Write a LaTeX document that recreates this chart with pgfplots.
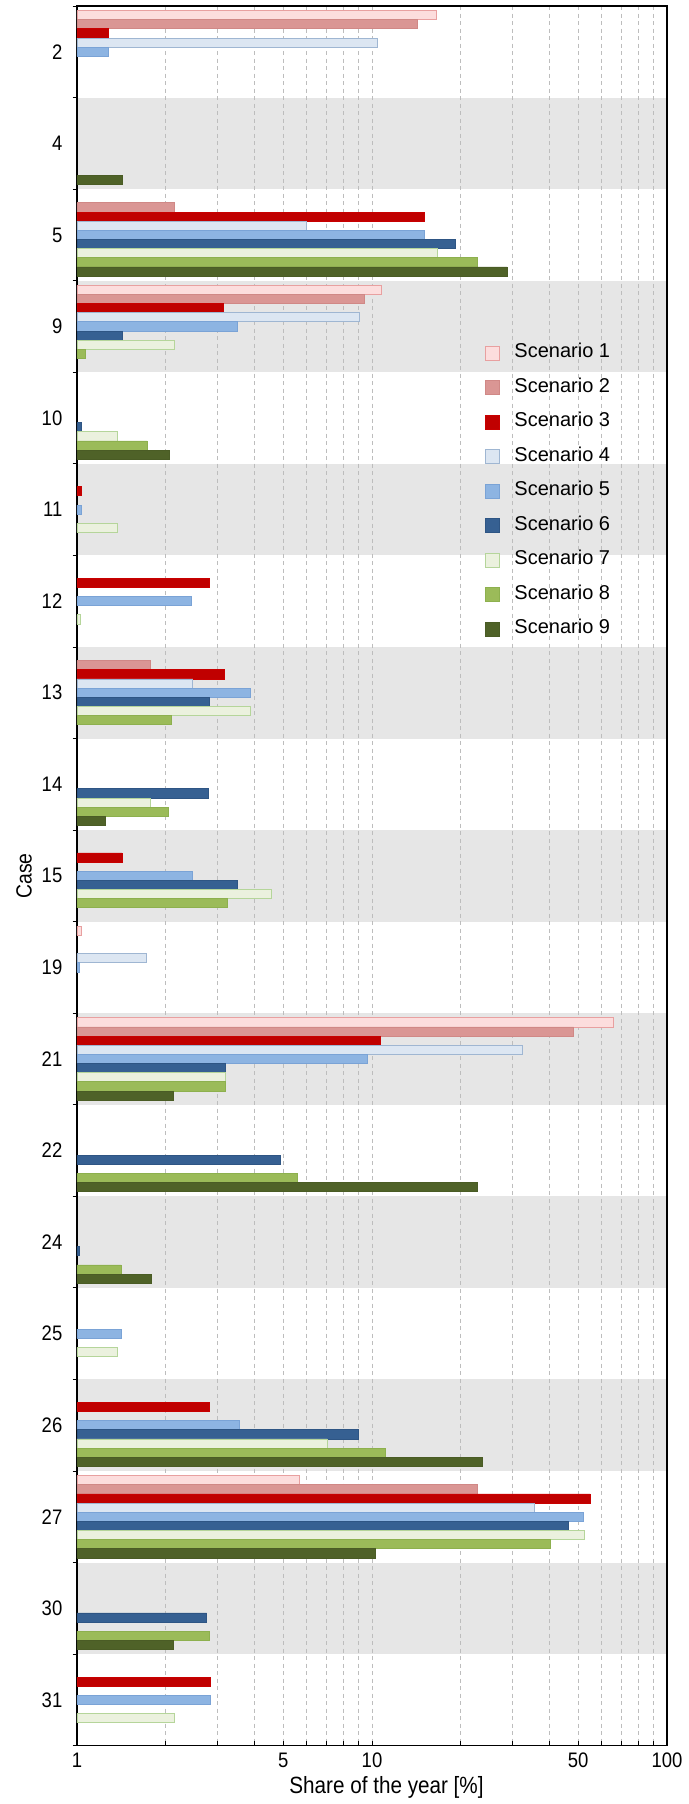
\documentclass[border=0pt]{standalone}
\usepackage{pgfplots}
\pgfplotsset{compat=1.18}
\usepackage{pgfplotstable}
\usepackage{fontspec}
\setmainfont{Liberation Sans}
\newfontfamily\narrowfont[FakeStretch=0.88]{Liberation Sans}

\definecolor{sAf}{HTML}{FCDDDD}\definecolor{sAd}{HTML}{E8A0A0}
\definecolor{sBf}{HTML}{DA9694}\definecolor{sBd}{HTML}{D08886}
\definecolor{sCf}{HTML}{C00000}\definecolor{sCd}{HTML}{C80000}
\definecolor{sDf}{HTML}{DCE6F2}\definecolor{sDd}{HTML}{9FB6D2}
\definecolor{sEf}{HTML}{8DB4E2}\definecolor{sEd}{HTML}{7AA3D6}
\definecolor{sFf}{HTML}{366092}\definecolor{sFd}{HTML}{2E5584}
\definecolor{sGf}{HTML}{EBF1DE}\definecolor{sGd}{HTML}{B5D59A}
\definecolor{sHf}{HTML}{9BBB59}\definecolor{sHd}{HTML}{8DB04E}
\definecolor{sIf}{HTML}{4F6228}\definecolor{sId}{HTML}{4A5C25}
\definecolor{bandgray}{HTML}{E6E6E6}
\definecolor{gridgray}{HTML}{BDBDBD}

% idx = position of the case on the vertical axis (0 = case 2, ..., 18 = case 31)
\pgfplotstableread{
idx val
0 16.5
3 10.8
10 1.035
11 65.6
16 5.69
}\scA
\pgfplotstableread{
idx val
0 14.3
2 2.14
3 9.45
7 1.78
11 48.2
16 22.8
}\scB
\pgfplotstableread{
idx val
0 1.28
2 15.1
3 3.14
5 1.035
6 2.81
7 3.16
9 1.42
11 10.7
15 2.82
16 54.9
18 2.84
}\scC
\pgfplotstableread{
idx val
0 10.4
2 6.0
3 9.07
7 2.47
10 1.72
11 32.3
16 35.4
}\scD
\pgfplotstableread{
idx val
0 1.28
2 15.1
3 3.49
5 1.035
6 2.45
7 3.87
9 2.47
10 1.02
11 9.68
14 1.41
15 3.54
16 52.2
18 2.84
}\scE
\pgfplotstableread{
idx val
2 19.2
3 1.42
4 1.035
7 2.82
8 2.78
9 3.50
11 3.19
12 4.88
13 1.02
15 9.01
16 46.3
17 2.75
}\scF
\pgfplotstableread{
idx val
2 16.7
3 2.14
4 1.366
5 1.366
6 1.03
7 3.88
8 1.77
9 4.57
11 3.19
14 1.366
15 7.04
16 52.5
18 2.14
}\scG
\pgfplotstableread{
idx val
2 22.7
3 1.067
4 1.73
7 2.09
8 2.04
9 3.24
11 3.19
12 5.60
13 1.41
15 11.1
16 40.4
17 2.82
}\scH
\pgfplotstableread{
idx val
1 1.42
2 28.7
4 2.05
8 1.25
11 2.13
12 22.8
13 1.79
15 23.6
16 10.3
17 2.13
}\scI

\pgfplotsset{
  scen/.style n args={3}{
    xbar, bar width=0.1, bar shift=#1,
    fill=#2, draw=#3, line width=0.8pt,
    legend image code/.code={
      \draw[##1] (0pt,-7pt) rectangle (14pt,7pt);
      \path (28.5pt,0pt);
    }
  }
}

\begin{document}
\begin{tikzpicture}
\begin{axis}[
  set layers=standard,
  scale only axis, width=590pt, height=1739.7pt,
  at={(0pt,0pt)}, anchor=south west,
  xmode=log, xmin=1, xmax=100,
  ymin=-0.5, ymax=18.5, y dir=reverse,
  xtick={1,5,10,50,100}, xticklabels={1,5,10,50,100},
  minor xtick={2,3,4,6,7,8,9,20,30,40,60,70,80,90},
  xmajorgrids, xminorgrids,
  grid style={dash pattern=on 4pt off 3.5pt, gridgray, line width=0.7pt},
  minor grid style={dash pattern=on 4pt off 3.5pt, gridgray, line width=0.7pt},
  ytick={0,...,18},
  yticklabels={2,4,5,9,10,11,12,13,14,15,19,21,22,24,25,26,27,30,31},
  minor ytick={-0.5,0.5,...,18.5},
  xtick pos=bottom, ytick pos=left,
  xtick align=inside, ytick align=outside,
  x tick style={black, line width=0.8pt},
  major y tick style={draw=none},
  minor y tick style={black, line width=0.8pt},
  major tick length=4.5pt, minor tick length=4.5pt,
  axis line style={line width=1.3pt},
  xticklabel style={font=\narrowfont\fontsize{21}{21}\selectfont, inner sep=0pt, yshift=-7pt},
  yticklabel style={font=\narrowfont\fontsize{21}{21}\selectfont, inner sep=0pt, xshift=-10pt},
  xlabel={Share of the year [\%]},
  xlabel style={font=\narrowfont\fontsize{23.5}{23.5}\selectfont, at={(axis description cs:0.5246,0)}, anchor=center, inner sep=0pt, yshift=-42pt},
  ylabel={Case},
  ylabel style={font=\narrowfont\fontsize{22}{22}\selectfont, at={(axis description cs:-0.0898,0.5)}, anchor=center, inner sep=0pt},
  legend cell align=left,
  legend style={draw=none, fill=none, at={(axis description cs:0.6864,0.807)}, anchor=north west,
    font=\fontsize{20}{20}\selectfont, row sep=16.5pt,
    nodes={inner sep=0pt, text height=14pt, text depth=4pt}},
]
\begin{pgfonlayer}{axis background}
\fill[bandgray] (axis cs:1,0.5) rectangle (axis cs:100,1.5);
\fill[bandgray] (axis cs:1,2.5) rectangle (axis cs:100,3.5);
\fill[bandgray] (axis cs:1,4.5) rectangle (axis cs:100,5.5);
\fill[bandgray] (axis cs:1,6.5) rectangle (axis cs:100,7.5);
\fill[bandgray] (axis cs:1,8.5) rectangle (axis cs:100,9.5);
\fill[bandgray] (axis cs:1,10.5) rectangle (axis cs:100,11.5);
\fill[bandgray] (axis cs:1,12.5) rectangle (axis cs:100,13.5);
\fill[bandgray] (axis cs:1,14.5) rectangle (axis cs:100,15.5);
\fill[bandgray] (axis cs:1,16.5) rectangle (axis cs:100,17.5);
\end{pgfonlayer}
\addplot[scen={-0.4}{sAf}{sAd}] table[x=val,y=idx]{\scA};
\addlegendentry{Scenario 1}
\addplot[scen={-0.3}{sBf}{sBd}] table[x=val,y=idx]{\scB};
\addlegendentry{Scenario 2}
\addplot[scen={-0.2}{sCf}{sCd}] table[x=val,y=idx]{\scC};
\addlegendentry{Scenario 3}
\addplot[scen={-0.1}{sDf}{sDd}] table[x=val,y=idx]{\scD};
\addlegendentry{Scenario 4}
\addplot[scen={0}{sEf}{sEd}] table[x=val,y=idx]{\scE};
\addlegendentry{Scenario 5}
\addplot[scen={0.1}{sFf}{sFd}] table[x=val,y=idx]{\scF};
\addlegendentry{Scenario 6}
\addplot[scen={0.2}{sGf}{sGd}] table[x=val,y=idx]{\scG};
\addlegendentry{Scenario 7}
\addplot[scen={0.3}{sHf}{sHd}] table[x=val,y=idx]{\scH};
\addlegendentry{Scenario 8}
\addplot[scen={0.4}{sIf}{sId}] table[x=val,y=idx]{\scI};
\addlegendentry{Scenario 9}
\end{axis}
\pgfresetboundingbox
\useasboundingbox (-77pt,-58.3pt) rectangle (611pt,1745.7pt);
\end{tikzpicture}
\end{document}
